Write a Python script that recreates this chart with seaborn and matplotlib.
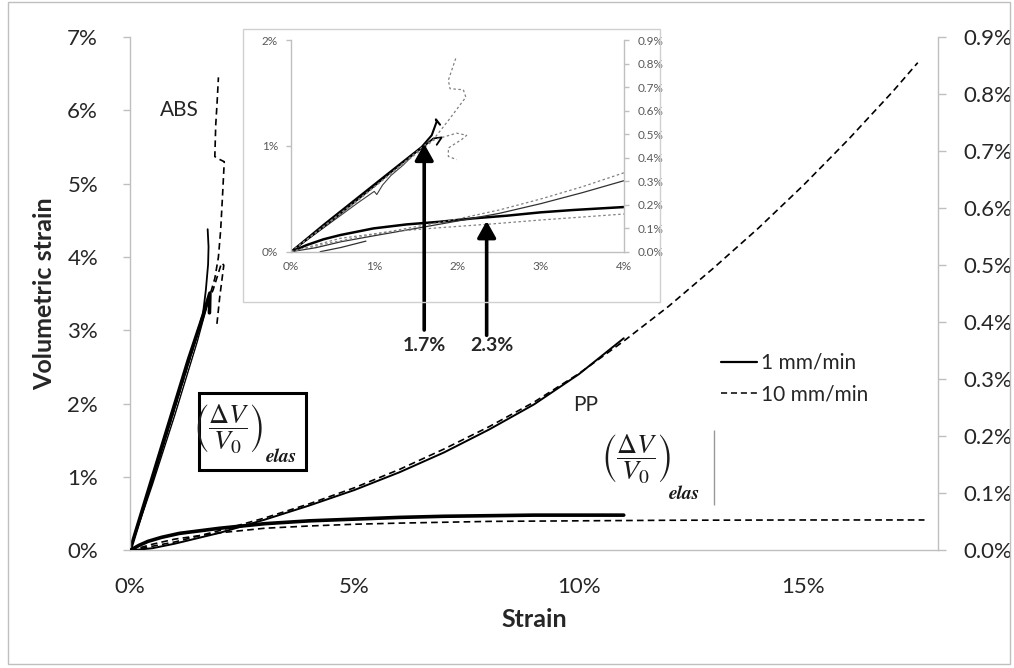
import numpy as np
import pandas as pd
import matplotlib
matplotlib.use("Agg")
import matplotlib.pyplot as plt
import seaborn as sns
from matplotlib.lines import Line2D
from matplotlib.patches import Rectangle
from matplotlib.ticker import FuncFormatter

sns.set_style("white")
plt.rcParams["font.family"] = ["Lato", "DejaVu Sans"]
plt.rcParams["mathtext.fontset"] = "stix"

# --------------------------------------------------------------------------
# Main chart data (strain %, volumetric strain %)
# ABS -> left axis, PP -> right axis
# --------------------------------------------------------------------------
abs_slow_a_x = [0, 0.4, 0.9, 1.3, 1.6, 1.78, 1.77]
abs_slow_a_y = [0, 0.8, 1.8, 2.6, 3.15, 3.51, 3.24]
abs_slow_b_x = [0, 0.5, 1.0, 1.4, 1.62, 1.69, 1.74, 1.75, 1.73]
abs_slow_b_y = [0, 0.95, 1.95, 2.75, 3.2, 3.55, 3.9, 4.14, 4.38]
abs_slow_c_x = [0, 0.5, 1.0, 1.5, 1.7]
abs_slow_c_y = [0, 0.9, 1.85, 2.85, 3.3]

abs_fast_a_x = [0, 0.9, 1.6, 1.8, 1.89, 1.97, 2.02, 2.06, 2.1, 2.0, 1.89, 1.91, 1.94, 1.97]
abs_fast_a_y = [0, 1.78, 3.18, 3.52, 3.71, 4.0, 4.37, 4.82, 5.3, 5.33, 5.37, 5.8, 6.1, 6.45]
abs_fast_b_x = [0, 0.9, 1.7, 1.85, 2.04, 2.09, 2.0, 1.93]
abs_fast_b_y = [0, 1.75, 3.35, 3.55, 3.92, 3.89, 3.46, 3.05]

pp_slow_rise_x = [0, 0.5, 1, 2, 3, 4, 5, 6, 7, 8, 9, 10, 11]
pp_slow_rise_y = [0, 0.004, 0.012, 0.031, 0.054, 0.079, 0.106, 0.137, 0.172, 0.212, 0.256, 0.309, 0.372]
pp_fast_rise_x = [0, 1, 2, 3, 4, 5, 6, 7, 8, 9, 10, 11, 12, 13, 14, 15, 16, 17, 17.55]
pp_fast_rise_y = [0, 0.015, 0.035, 0.057, 0.082, 0.11, 0.142, 0.178, 0.217, 0.26, 0.31,
                  0.367, 0.428, 0.495, 0.565, 0.64, 0.72, 0.805, 0.855]
pp_slow_flat_x = [0, 0.2, 0.4, 0.7, 1.1, 1.6, 2.0, 3.0, 4, 5, 6, 7, 8, 9, 10, 11]
pp_slow_flat_y = [0, 0.009, 0.016, 0.023, 0.030, 0.035, 0.039, 0.047, 0.052, 0.055,
                  0.058, 0.06, 0.061, 0.062, 0.062, 0.062]
pp_fast_flat_x = [0, 0.5, 1, 2, 3, 4, 5, 6, 8, 10, 12, 15, 17.7]
pp_fast_flat_y = [0, 0.011, 0.02, 0.031, 0.039, 0.043, 0.046, 0.048, 0.051, 0.052, 0.053, 0.0535, 0.0535]

main_x_ticks = [0, 5, 10, 15]
left_y_ticks = [0, 1, 2, 3, 4, 5, 6, 7]
right_y_ticks = [0.0, 0.1, 0.2, 0.3, 0.4, 0.5, 0.6, 0.7, 0.8, 0.9]

# --------------------------------------------------------------------------
# Inset data (zoom on 0-4 % strain)
# --------------------------------------------------------------------------
in_abs_a_x = [0, 0.4, 0.8, 1.2, 1.57, 1.69, 1.75, 1.74, 1.79]
in_abs_a_y = [0, 0.26, 0.51, 0.76, 0.99, 1.10, 1.23, 1.25, 1.20]
in_abs_b_x = [0, 0.5, 1.0, 1.4, 1.57, 1.71, 1.81, 1.75]
in_abs_b_y = [0, 0.3, 0.62, 0.88, 0.98, 1.07, 1.08, 1.01]
in_abs_c_x = [0, 0.4, 0.8, 1.0, 1.03, 1.1, 1.2, 1.35, 1.5]
in_abs_c_y = [0, 0.23, 0.46, 0.57, 0.54, 0.63, 0.72, 0.82, 0.94]
in_abs_d_x = [0, 0.8, 1.61, 1.73, 1.99, 2.11, 2.05, 1.89, 1.89, 1.99]
in_abs_d_y = [0, 0.48, 1.01, 1.06, 1.12, 1.10, 1.06, 0.98, 0.90, 0.87]
in_abs_e_x = [0, 0.8, 1.69, 1.9, 2.1, 2.07, 1.91, 1.89, 1.98]
in_abs_e_y = [0, 0.49, 1.04, 1.25, 1.46, 1.53, 1.54, 1.62, 1.83]

in_pp_thick_x = [0, 0.19, 0.39, 0.59, 0.99, 1.39, 1.79, 2.19, 2.59, 3.0, 3.39, 4.0]
in_pp_thick_y = [0, 0.063, 0.117, 0.157, 0.22, 0.258, 0.283, 0.315, 0.34, 0.372, 0.394, 0.422]
in_pp_thin_x = [0, 0.3, 0.6, 1.0, 1.5, 2.0, 2.5, 3.0, 3.5, 4.0]
in_pp_thin_y = [0, 0.038, 0.094, 0.151, 0.22, 0.29, 0.362, 0.454, 0.558, 0.671]
in_pp_low_x = [0.35, 0.6, 0.9]
in_pp_low_y = [0, 0.04, 0.1]
in_pp_dot_up_x = [0, 0.5, 1.0, 1.5, 2.0, 2.5, 3.0, 3.5, 4.0]
in_pp_dot_up_y = [0, 0.088, 0.164, 0.236, 0.309, 0.394, 0.498, 0.614, 0.746]
in_pp_dot_lo_x = [0, 0.59, 1.19, 1.79, 2.39, 2.99, 4.0]
in_pp_dot_lo_y = [0, 0.126, 0.189, 0.227, 0.261, 0.299, 0.356]

in_x_ticks = [0, 1, 2, 3, 4]
in_left_ticks = [0, 1, 2]
in_right_ticks = [0.0, 0.1, 0.2, 0.3, 0.4, 0.5, 0.6, 0.7, 0.8, 0.9]

arrow_x = [1.6, 2.35]
arrow_tip = [1.02, 0.29]
arrow_tail = [-0.74, -0.79]
arrow_label_x = [1.6, 2.41]
arrow_labels = ["1.7%", "2.3%"]

FRAC = r"$\left(\dfrac{\Delta V}{V_0}\right)$"
SPINE = "#bfbfbf"
DASH = (0, (4, 2.5))
DOT = (0, (2, 2))


def draw(ax, xs, ys, **kw):
    sns.lineplot(x=xs, y=ys, sort=False, estimator=None, ax=ax, legend=False, **kw)


def style_axis(ax, size, pad, length):
    ax.tick_params(direction="out", length=length, width=1, color=SPINE,
                   labelsize=size, pad=pad)
    for s in ax.spines.values():
        s.set_color(SPINE)
        s.set_linewidth(1)


def formula(ax, fx, fy, ex, ey):
    ax.text(fx, fy, FRAC, fontsize=20, ha="center", va="center", color="#1a1a1a")
    ax.text(ex, ey, "elas", fontsize=14, ha="center", va="center", color="#1a1a1a",
            family="STIXGeneral", style="italic", weight="bold")


fig = plt.figure(figsize=(10.14, 6.68), dpi=100)
ax = fig.add_axes([0.1282, 0.1759, 0.7968, 0.7687])
ax_r = ax.twinx()

# ABS on left axis
draw(ax, abs_slow_a_x, abs_slow_a_y, color="k", lw=2.6)
draw(ax, abs_slow_b_x, abs_slow_b_y, color="k", lw=1.3)
draw(ax, abs_slow_c_x, abs_slow_c_y, color="k", lw=1.0)
draw(ax, abs_fast_a_x, abs_fast_a_y, color="k", lw=1.2, linestyle=DASH)
draw(ax, abs_fast_b_x, abs_fast_b_y, color="k", lw=1.2, linestyle=DASH)

# PP on right axis
draw(ax_r, pp_slow_flat_x, pp_slow_flat_y, color="k", lw=2.6)
draw(ax_r, pp_slow_rise_x, pp_slow_rise_y, color="k", lw=1.4)
draw(ax_r, pp_fast_rise_x, pp_fast_rise_y, color="k", lw=1.2, linestyle=DASH)
draw(ax_r, pp_fast_flat_x, pp_fast_flat_y, color="k", lw=1.2, linestyle=DASH)

ax.set_xlim(0, 18)
ax.set_ylim(0, 7)
ax_r.set_ylim(0, 0.9)
ax.set_xticks(main_x_ticks)
ax.set_yticks(left_y_ticks)
ax_r.set_yticks(right_y_ticks)
ax.xaxis.set_major_formatter(FuncFormatter(lambda v, p: f"{v:.0f}%"))
ax.yaxis.set_major_formatter(FuncFormatter(lambda v, p: f"{v:.0f}%"))
ax_r.yaxis.set_major_formatter(FuncFormatter(lambda v, p: f"{v:.1f}%"))
style_axis(ax, 16, 14, 5)
style_axis(ax_r, 16, 12, 6)
ax.tick_params(axis="y", pad=18)
ax.spines["top"].set_visible(False)
ax.spines["right"].set_visible(False)
ax_r.spines["top"].set_visible(False)
ax_r.spines["left"].set_visible(False)
ax_r.spines["bottom"].set_visible(False)
ax.set_xlabel("Strain", fontsize=18, fontweight="bold", labelpad=8)
ax.set_ylabel("Volumetric strain", fontsize=18, fontweight="bold", labelpad=8)

ax.text(1.1, 6.0, "ABS", fontsize=15, ha="center", va="center")
ax.text(10.16, 1.98, "PP", fontsize=15, ha="center", va="center")

# boxed formula (ABS) and open formula (PP)
ax.add_patch(Rectangle((1.54, 1.10), 2.38, 1.05, fill=False, ec="black", lw=2.2, zorder=3))
formula(ax, 2.2, 1.65, 3.38, 1.27)
formula(ax, 11.28, 1.24, 12.35, 0.77)
ax.vlines(13.0, 0.62, 1.64, color="#999999", lw=1)

handles = [Line2D([], [], color="k", lw=1.6),
           Line2D([], [], color="k", lw=1.1, linestyle=DASH)]
ax.legend(handles, ["1 mm/min", "10 mm/min"], loc="upper left",
          bbox_to_anchor=(0.731, 0.385), frameon=False, fontsize=15,
          handlelength=1.75, handletextpad=0.2, labelspacing=0.55,
          borderpad=0, borderaxespad=0)

# --------------------------------------------------------------------------
# Inset
# --------------------------------------------------------------------------
fig.patches.append(Rectangle((0.2396, 0.5479), 0.4112, 0.4087, transform=fig.transFigure,
                             fill=False, ec="#d0d0d0", lw=1))
ax_in = fig.add_axes([0.287, 0.6232, 0.3284, 0.3169])
ax_in_r = ax_in.twinx()

draw(ax_in, in_abs_c_x, in_abs_c_y, color="#404040", lw=0.8)
draw(ax_in, in_abs_a_x, in_abs_a_y, color="k", lw=1.5)
draw(ax_in, in_abs_b_x, in_abs_b_y, color="k", lw=1.3)
draw(ax_in, in_abs_d_x, in_abs_d_y, color="#808080", lw=0.9, linestyle=DOT)
draw(ax_in, in_abs_e_x, in_abs_e_y, color="#808080", lw=0.9, linestyle=DOT)
draw(ax_in, in_pp_thick_x, in_pp_thick_y, color="k", lw=1.8)
draw(ax_in, in_pp_thin_x, in_pp_thin_y, color="#303030", lw=0.9)
draw(ax_in, in_pp_low_x, in_pp_low_y, color="#303030", lw=0.9)
draw(ax_in, in_pp_dot_up_x, in_pp_dot_up_y, color="#808080", lw=0.9, linestyle=DOT)
draw(ax_in, in_pp_dot_lo_x, in_pp_dot_lo_y, color="#808080", lw=0.9, linestyle=DOT)

ax_in.set_xlim(0, 4)
ax_in.set_ylim(0, 2)
ax_in_r.set_ylim(0, 0.9)
ax_in.set_xticks(in_x_ticks)
ax_in.set_yticks(in_left_ticks)
ax_in_r.set_yticks(in_right_ticks)
ax_in.xaxis.set_major_formatter(FuncFormatter(lambda v, p: f"{v:.0f}%"))
ax_in.yaxis.set_major_formatter(FuncFormatter(lambda v, p: f"{v:.0f}%"))
ax_in_r.yaxis.set_major_formatter(FuncFormatter(lambda v, p: f"{v:.1f}%"))
for a in (ax_in, ax_in_r):
    style_axis(a, 8.5, 6, 3.5)
    a.tick_params(labelcolor="#595959")
    a.spines["top"].set_visible(False)
ax_in.spines["right"].set_visible(False)
ax_in_r.spines["left"].set_visible(False)
ax_in_r.spines["bottom"].set_visible(False)
ax_in.tick_params(axis="x", pad=3)

for xa, tip, tail, lx, lab in zip(arrow_x, arrow_tip, arrow_tail, arrow_label_x, arrow_labels):
    ax_in.annotate("", xy=(xa, tip), xytext=(xa, tail), annotation_clip=False,
                   arrowprops=dict(arrowstyle="-|>,head_length=0.5,head_width=0.28",
                                   lw=2.6, color="k", shrinkA=0, shrinkB=0,
                                   mutation_scale=20))
    ax_in.text(lx, -0.89, lab, fontsize=14, fontweight="bold", ha="center",
               va="center", clip_on=False)

# outer frame
fig.patches.append(Rectangle((8 / 1014, 4 / 668), 1002 / 1014, 662 / 668,
                             transform=fig.transFigure, fill=False, ec="#bfbfbf", lw=1))

fig.savefig("out.png", dpi=100)
